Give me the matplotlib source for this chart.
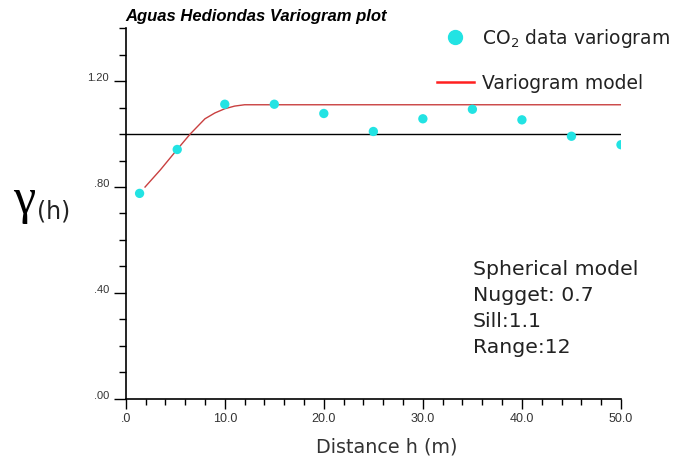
import numpy as np
import matplotlib
matplotlib.use('Agg')
import matplotlib.pyplot as plt
from matplotlib.lines import Line2D
from matplotlib.transforms import ScaledTranslation

#### data ####
lag_dist = [1.4, 5.2, 10.0, 15.0, 20.0, 25.0, 30.0, 35.0, 40.0, 45.0, 50.0]
gamma_exp = [0.776, 0.942, 1.113, 1.113, 1.078, 1.010, 1.058, 1.094, 1.054, 0.992, 0.960]

model_dist = [1.95, 3.5, 5.15, 6.5, 8.0, 9.0, 10.0, 11.0, 12.0, 50.0]
model_gamma = [0.80, 0.865, 0.940, 1.000, 1.058, 1.080, 1.096, 1.106, 1.111, 1.111]

sill_ref = 1.0

y_ticks = [0.0, 0.4, 0.8, 1.2]
y_tick_labels = ['.00', '.40', '.80', '1.20']
x_ticks = [0, 10, 20, 30, 40, 50]
x_tick_labels = ['.0', '10.0', '20.0', '30.0', '40.0', '50.0']

model_text = 'Spherical model\nNugget: 0.7\nSill:1.1\nRange:12'

#### plot ####
fig = plt.figure(figsize=(6.73, 4.58), dpi=100)
ax = fig.add_axes([0.1868, 0.1295, 0.7359, 0.8087])

ax.plot([0, 50], [sill_ref, sill_ref], color='black', linewidth=1.0, zorder=1)
ax.plot(model_dist, model_gamma, color='#c94040', linewidth=1.0, zorder=2)
ax.scatter(lag_dist, gamma_exp, s=45, color='#22e3e3', edgecolors='none', zorder=3)

ax.set_xlim(0, 50)
ax.set_ylim(0, 1.4)
ax.spines['top'].set_visible(False)
ax.spines['right'].set_visible(False)
ax.spines['left'].set_linewidth(1.2)
ax.spines['bottom'].set_linewidth(1.2)

ax.set_yticks(y_ticks)
ax.set_yticklabels(y_tick_labels, fontsize=8, family='Liberation Sans', color='#333333')
ax.set_yticks(np.arange(0, 1.41, 0.1), minor=True)
ax.set_xticks(x_ticks)
ax.set_xticklabels(x_tick_labels, fontsize=9, family='Liberation Sans', color='#333333')
ax.set_xticks(np.arange(0, 50.1, 2), minor=True)
ax.tick_params(axis='y', which='major', length=9, width=1, pad=3)
ax.tick_params(axis='y', which='minor', length=5, width=1)
ax.tick_params(axis='x', which='major', length=7, width=1, pad=3)
ax.tick_params(axis='x', which='minor', length=4, width=1)

# y labels sit just above their tick
for lab in ax.get_yticklabels():
    lab.set_transform(lab.get_transform() + ScaledTranslation(0, 3 / 72, fig.dpi_scale_trans))

ax.set_xlabel('Distance h (m)', fontsize=13.8, color='#333333')
ax.xaxis.set_label_coords(0.5276, -0.106)

fig.text(125 / 673, 1 - 17 / 458, 'Aguas Hediondas Variogram plot', fontsize=12,
         family='Liberation Sans', weight='bold', style='italic', va='center', ha='left')

# gamma(h) label
fig.text(13 / 673, 1 - 201 / 458, 'γ', fontsize=36, family='Liberation Serif', va='center', ha='left')
fig.text(37 / 673, 1 - 212 / 458, '(h)', fontsize=17, color='#222222', va='center', ha='left')

fig.text(473 / 673, 1 - 260 / 458, model_text, fontsize=14.7, color='#222222',
         va='top', ha='left', linespacing=1.47)

handles = [Line2D([], [], linestyle='none', marker='o', markersize=10, color='#22e3e3'),
           Line2D([], [], color='#ff2020', linewidth=1.8)]
ax.legend(handles, ['CO$_2$ data variogram', 'Variogram model'], loc='upper left',
          bbox_to_anchor=(437 / 673, 1 - 26.6 / 458), bbox_transform=fig.transFigure,
          frameon=False, fontsize=13.5, borderpad=0, borderaxespad=0, handlelength=1.97,
          handletextpad=0.43, labelspacing=1.30, labelcolor='#222222')

fig.savefig('out.png', dpi=100)
